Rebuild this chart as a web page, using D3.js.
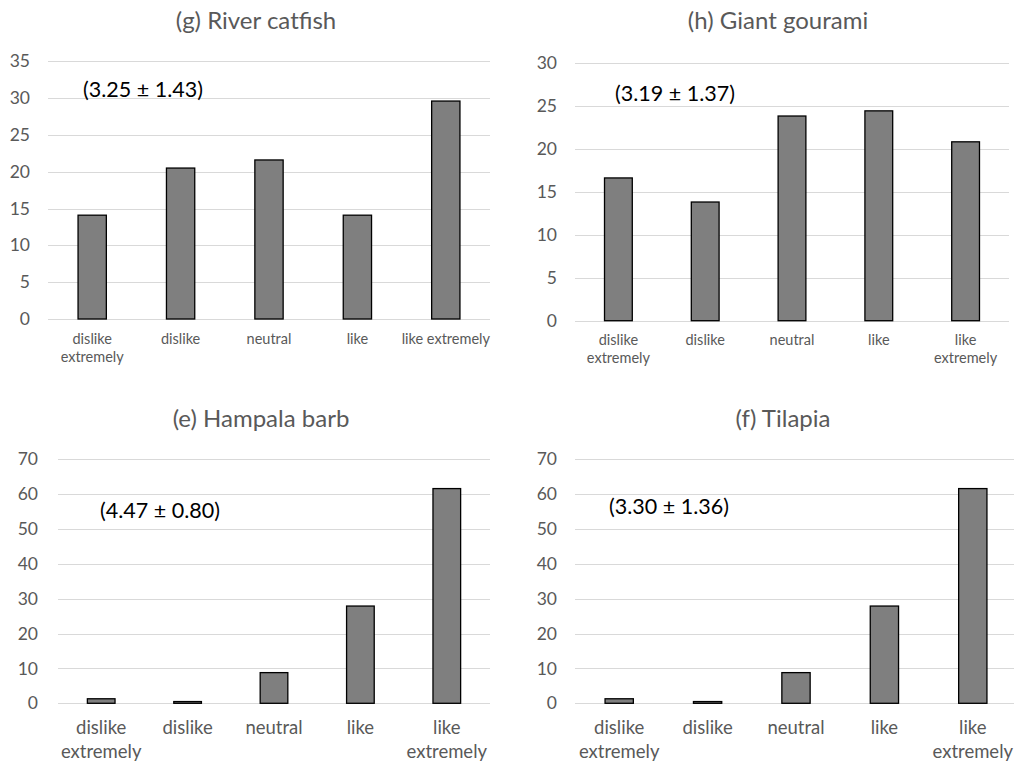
<!DOCTYPE html>
<html>
<head>
<meta charset="utf-8">
<script src="https://cdn.jsdelivr.net/npm/d3@7"></script>
<style>
  html, body { margin: 0; padding: 0; background: #fff; }
  svg { display: block; }
  text { font-family: Lato, "Open Sans", sans-serif; }
</style>
</head>
<body>
<svg id="chart" width="1014" height="763"></svg>
<script>
// ---- data ----
const categories = ["dislike extremely", "dislike", "neutral", "like", "like extremely"];
const labelsG = [["dislike", "extremely"], ["dislike"], ["neutral"], ["like"], ["like extremely"]];
const labelsOther = [["dislike", "extremely"], ["dislike"], ["neutral"], ["like"], ["like", "extremely"]];

const valuesG = [14.1, 20.5, 21.6, 14.1, 29.6];   // (g) River catfish
const valuesH = [16.6, 13.8, 23.8, 24.4, 20.8];   // (h) Giant gourami
const valuesE = [1.3, 0.5, 8.8, 27.9, 61.6];      // (e) Hampala barb
const valuesF = [1.3, 0.5, 8.8, 27.9, 61.6];      // (f) Tilapia

const ticksG = [0, 5, 10, 15, 20, 25, 30, 35];
const ticksH = [0, 5, 10, 15, 20, 25, 30];
const ticksE = [0, 10, 20, 30, 40, 50, 60, 70];
const ticksF = [0, 10, 20, 30, 40, 50, 60, 70];

const titles = ["(g) River catfish", "(h) Giant gourami", "(e) Hampala barb", "(f) Tilapia"];
const notes = ["(3.25 \u00B1 1.43)", "(3.19 \u00B1 1.37)", "(4.47 \u00B1 0.80)", "(3.30 \u00B1 1.36)"];

// ---- layout ----
const panels = [
  { title: titles[0], note: notes[0], values: valuesG, ticks: ticksG, labels: labelsG,
    x0: 48, x1: 490, yTop: 61.3, yBot: 319, titleX: 256, titleY: 29, noteX: 83, noteY: 97,
    lab1: 344, labStep: 18, labSize: 14.5, tickPad: 18 },
  { title: titles[1], note: notes[1], values: valuesH, ticks: ticksH, labels: labelsOther,
    x0: 575, x1: 1009, yTop: 62.7, yBot: 320.7, titleX: 778, titleY: 29, noteX: 615, noteY: 101,
    lab1: 345, labStep: 18, labSize: 14.5, tickPad: 18 },
  { title: titles[2], note: notes[2], values: valuesE, ticks: ticksE, labels: labelsOther,
    x0: 58, x1: 490, yTop: 459.3, yBot: 703.3, titleX: 261, titleY: 427, noteX: 100, noteY: 518,
    lab1: 734, labStep: 24, labSize: 18.5, tickPad: 20 },
  { title: titles[3], note: notes[3], values: valuesF, ticks: ticksF, labels: labelsOther,
    x0: 575, x1: 1017, yTop: 459.3, yBot: 703.3, titleX: 783, titleY: 427, noteX: 609, noteY: 514,
    lab1: 734, labStep: 24, labSize: 18.5, tickPad: 18 }
];

const svg = d3.select("#chart");

panels.forEach(p => {
  const g = svg.append("g");
  const x = d3.scaleBand().domain(categories).range([p.x0, p.x1]).padding(0);
  const tmax = p.ticks[p.ticks.length - 1];
  const y = d3.scaleLinear().domain([0, tmax]).range([p.yBot, p.yTop]);

  // gridlines
  g.append("g").selectAll("line").data(p.ticks).join("line")
    .attr("x1", p.x0).attr("x2", p.x1)
    .attr("y1", d => Math.round(y(d)) + 0.5).attr("y2", d => Math.round(y(d)) + 0.5)
    .attr("stroke", "#d9d9d9").attr("stroke-width", 1);

  // y tick labels via axis
  const axis = d3.axisLeft(y).tickValues(p.ticks).tickSize(0).tickPadding(p.tickPad);
  const ag = g.append("g").attr("transform", `translate(${p.x0},0)`).call(axis);
  ag.select(".domain").remove();
  ag.selectAll("text").attr("font-family", "Lato, sans-serif").attr("font-size", 17.5)
    .attr("fill", "#595959");

  // bars
  const bw = x.bandwidth() * 0.32;
  g.append("g").selectAll("rect").data(p.values).join("rect")
    .attr("x", (d, i) => x(categories[i]) + x.bandwidth() / 2 - bw / 2)
    .attr("width", bw)
    .attr("y", d => y(d))
    .attr("height", d => y(0) - y(d))
    .attr("fill", "#7f7f7f").attr("stroke", "#000").attr("stroke-width", 1.3);

  // x labels
  const lg = g.append("g");
  p.labels.forEach((lines, i) => {
    const cx = x(categories[i]) + x.bandwidth() / 2;
    lines.forEach((t, j) => {
      lg.append("text").attr("x", cx).attr("y", p.lab1 + j * p.labStep)
        .attr("text-anchor", "middle").attr("font-size", p.labSize)
        .attr("fill", "#595959").text(t);
    });
  });

  // title
  g.append("text").attr("x", p.titleX).attr("y", p.titleY).attr("text-anchor", "middle")
    .attr("font-size", 24).attr("fill", "#595959").text(p.title);

  // annotation
  g.append("text").attr("x", p.noteX).attr("y", p.noteY)
    .attr("font-size", 21.5).attr("fill", "#000").text(p.note);
});
</script>
</body>
</html>
